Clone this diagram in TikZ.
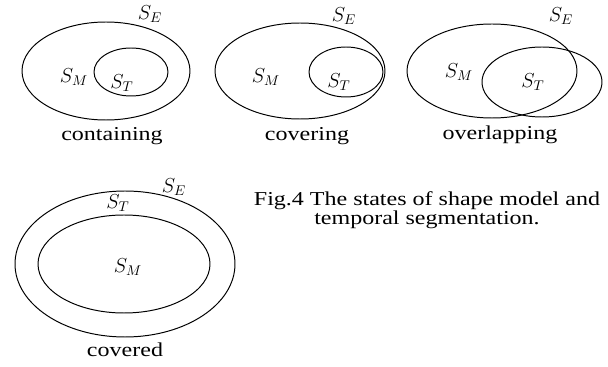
\documentclass[tikz,border=0pt]{standalone}
\usepackage{fontspec}
\setmainfont[FakeStretch=1.22]{Liberation Serif}
\usetikzlibrary{positioning}

\begin{document}
\begin{tikzpicture}[x=0.025cm, y=-0.025cm, line width=0.7pt,
    lbl/.style={font=\fontsize{14}{14}\selectfont, inner sep=0pt},
    figcap/.style={font=\fontsize{14}{12.5}\selectfont, inner sep=0pt, align=center}]
  \useasboundingbox (0,0) rectangle (608,367);
  % containing
  \draw (106,71) ellipse [x radius=84, y radius=49];
  \draw (131,72) ellipse [x radius=37, y radius=24];
  \node[lbl] (e1) at (150,14) {$S_E$};
  \node[lbl] (m1) at (74,77) {$S_M$};
  \node[lbl] (t1) at (122,83) {$S_T$};
  \node[lbl] (c1) at (112,136) {containing};
  % covering
  \draw (300,71) ellipse [x radius=85, y radius=48];
  \draw (346,72) ellipse [x radius=37, y radius=25];
  \node[lbl] (e2) at (344,16) {$S_E$};
  \node[lbl] (m2) at (266,77) {$S_M$};
  \node[lbl] (t2) at (339,82) {$S_T$};
  \node[lbl] (c2) at (307,136) {covering};
  % overlapping
  \draw (492,71) ellipse [x radius=85, y radius=47];
  \draw (542,82) ellipse [x radius=60, y radius=35];
  \node[lbl] (e3) at (561,16) {$S_E$};
  \node[lbl] (m3) at (459,72) {$S_M$};
  \node[lbl] (t3) at (533,82) {$S_T$};
  \node[lbl] (c3) at (500,135) {overlapping};
  % covered
  \draw (125,264) ellipse [x radius=110, y radius=73];
  \draw (124,264) ellipse [x radius=86, y radius=49];
  \node[lbl] (e4) at (174,187) {$S_E$};
  \node[lbl] (t4) at (118,203) {$S_T$};
  \node[lbl] (m4) at (128,267) {$S_M$};
  \node[lbl] (c4) at (125,350) {covered};
  % caption
  \node[figcap] (fig) at (427,210) {Fig.4 The states of shape model and\\temporal segmentation.};
\end{tikzpicture}
\end{document}
